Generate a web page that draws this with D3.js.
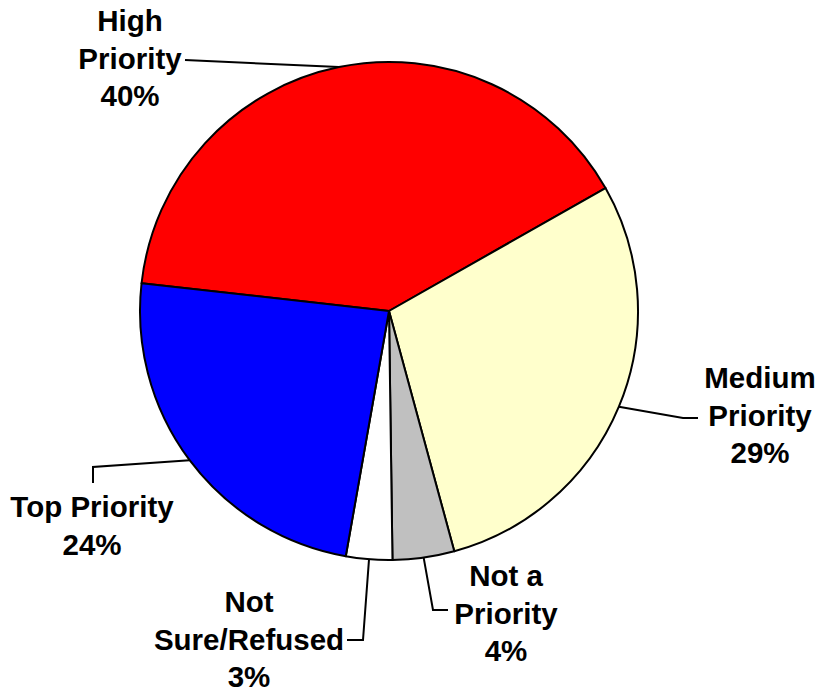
<!DOCTYPE html>
<html>
<head>
<meta charset="utf-8">
<script src="https://cdn.jsdelivr.net/npm/d3@7"></script>
<style>
  html, body { margin: 0; padding: 0; background: #fff; }
  svg { display: block; }
  text { font-family: "Liberation Sans", Arial, sans-serif; font-weight: bold; font-size: 29.5px; fill: #000; }
</style>
</head>
<body>
<div id="chart"></div>
<script>
// ---- data ----
const categories = ["High Priority", "Medium Priority", "Not a Priority", "Not Sure/Refused", "Top Priority"];
const values = [40, 29, 4, 3, 24];
const labelLines = [["High", "Priority", "40%"], ["Medium", "Priority", "29%"], ["Not a", "Priority", "4%"], ["Not", "Sure/Refused", "3%"], ["Top Priority", "24%"]];
const colors = ["#FF0000", "#FFFFCC", "#C0C0C0", "#FFFFFF", "#0000FF"];

// ---- layout ----
const W = 818, H = 691;
const cx = 389, cy = 311, R = 249;
const startDeg = -83.6;
const lineH = 37.5;
// label anchor (center x, first baseline) and leader elbow points (relative to page)
const labelLayout = [
  { x: 130, y: 31, elbow: [[185, 60]] },
  { x: 760, y: 388, elbow: [[683, 418], [698, 418]] },
  { x: 506, y: 586, elbow: [[433, 610], [448, 610]] },
  { x: 249, y: 612, elbow: [[363, 640], [347, 640]] },
  { x: 92, y: 517, elbow: [[93, 467], [93, 483]] }
];

const svg = d3.select("#chart").append("svg").attr("width", W).attr("height", H);
const g = svg.append("g").attr("transform", `translate(${cx},${cy})`);

const pie = d3.pie().sort(null).value(d => d)
  .startAngle(startDeg * Math.PI / 180)
  .endAngle(startDeg * Math.PI / 180 + 2 * Math.PI);
const arcs = pie(values);
const arc = d3.arc().innerRadius(0).outerRadius(R);
const edge = d3.arc().innerRadius(R).outerRadius(R);

g.selectAll("path.slice").data(arcs).enter().append("path")
  .attr("class", "slice")
  .attr("d", arc)
  .attr("fill", (d, i) => colors[i])
  .attr("stroke", "#000")
  .attr("stroke-width", 2)
  .attr("stroke-linejoin", "round");

// leader lines
const line = d3.line();
arcs.forEach((d, i) => {
  const [ex, ey] = edge.centroid(d);
  const pts = [[ex + cx, ey + cy]].concat(labelLayout[i].elbow);
  svg.append("path")
    .attr("d", line(pts))
    .attr("fill", "none")
    .attr("stroke", "#000")
    .attr("stroke-width", 2);
});

// labels
labelLines.forEach((lines, i) => {
  const L = labelLayout[i];
  const t = svg.append("text").attr("text-anchor", "middle");
  lines.forEach((s, j) => {
    t.append("tspan").attr("x", L.x).attr("y", L.y + j * lineH).text(s);
  });
});
</script>
</body>
</html>
